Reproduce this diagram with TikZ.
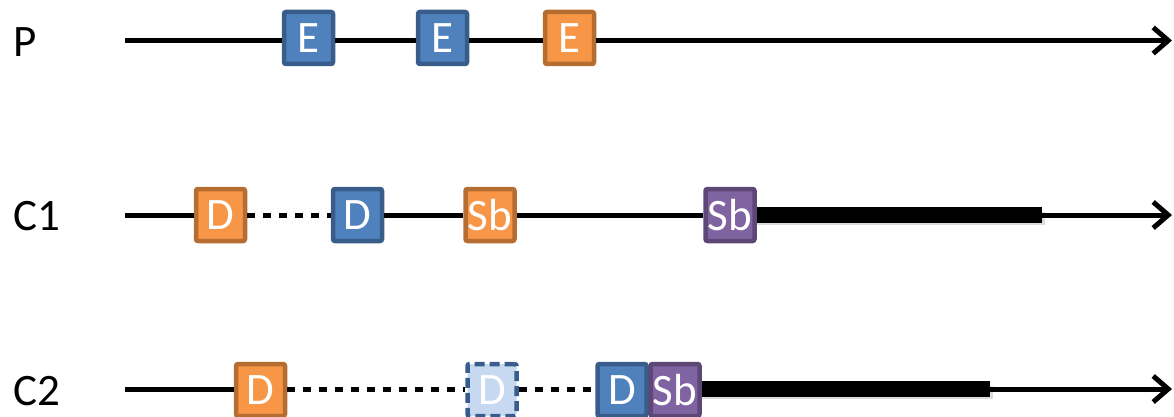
\documentclass[tikz,border=0pt]{standalone}
\usepackage{fontspec}
\setmainfont{Carlito}
\usetikzlibrary{arrows.meta}
\definecolor{bfill}{HTML}{4F81BD}
\definecolor{bdraw}{HTML}{385D8A}
\definecolor{ofill}{HTML}{F79646}
\definecolor{odraw}{HTML}{B66D31}
\definecolor{pfill}{HTML}{8064A2}
\definecolor{pdraw}{HTML}{5C4776}
\definecolor{lfill}{HTML}{C6D9F1}
\tikzset{
  boxbase/.style={rectangle, rounded corners=2pt, line width=4.5pt, minimum width=49pt, minimum height=52pt, inner sep=0pt, text=white, font=\fontsize{45}{48}\selectfont},
  bluebox/.style={boxbase, draw=bdraw, fill=bfill},
  orangebox/.style={boxbase, draw=odraw, fill=ofill},
  purplebox/.style={boxbase, draw=pdraw, fill=pfill},
  ghostbox/.style={boxbase, draw=bdraw, fill=lfill, dash pattern=on 10pt off 5pt},
  rowlabel/.style={font=\fontsize{45}{50}\selectfont, inner sep=0pt},
  axis/.style={line width=5pt},
  dots/.style={line width=5pt, dash pattern=on 8pt off 8pt},
  barline/.style={line width=16pt},
  barshadow/.style={line width=13pt, black!30, opacity=0.45},
  tip/.style={-{Straight Barb[length=15pt,width=26pt]}}
}
\begin{document}
\begin{tikzpicture}[x=1pt,y=-1pt]
\useasboundingbox (0,0) rectangle (1174,417);
% labels
\node[rowlabel, anchor=west] (lp) at (13,42) {P};
\node[rowlabel, anchor=west] (lc1) at (13,216) {C1};
\node[rowlabel, anchor=west] (lc2) at (13,391) {C2};
% row P
\coordinate (p0) at (125,40.5);
\coordinate (p1) at (1172,40.5);
\node[bluebox] (e1) at (308.5,38) {E};
\node[bluebox] (e2) at (442.5,38) {E};
\node[orangebox] (e3) at (569.5,38) {E};
\draw[axis] (p0) -- (p0 -| e1.west);
\draw[axis] (p0 -| e1.east) -- (p0 -| e2.west);
\draw[axis] (p0 -| e2.east) -- (p0 -| e3.west);
\draw[axis, tip] (p0 -| e3.east) -- (p1);
% row C1
\coordinate (c0) at (125,215);
\coordinate (c1) at (1172,215);
\coordinate (c1bar) at (1042,215);
\node[orangebox] (d1) at (220.5,215) {D};
\node[bluebox] (d2) at (357.5,215) {D};
\node[orangebox] (s1) at (490,215) {Sb};
\node[purplebox] (s2) at (730,215) {Sb};
\draw[axis] (c0) -- (d1.west);
\draw[dots] (d1.east) -- (d2.west);
\draw[axis] (d2.east) -- (s1.west);
\draw[axis] (s1.east) -- (s2.west);
\draw[barshadow] ([yshift=-3pt]s2.east) -- ([yshift=-3pt,xshift=3pt]c1bar);
\draw[barline] (s2.east) -- (c1bar);
\draw[axis, tip] (c1bar) -- (c1);
% row C2
\coordinate (q0) at (125,389);
\coordinate (q1) at (1172,389);
\coordinate (q1bar) at (990,389);
\node[orangebox] (f1) at (260.5,390) {D};
\node[ghostbox] (f2) at (492,390) {D};
\node[bluebox] (f3) at (622,390) {D};
\node[purplebox] (f4) at (675,390) {Sb};
\draw[axis] (q0) -- (q0 -| f1.west);
\draw[dots] (q0 -| f1.east) -- (q0 -| f2.west);
\draw[dots] (q0 -| f2.east) -- (q0 -| f3.west);
\draw[barshadow] ([yshift=-3pt]q0 -| f4.east) -- ([yshift=-3pt,xshift=3pt]q1bar);
\draw[barline] (q0 -| f4.east) -- (q1bar);
\draw[axis, tip] (q1bar) -- (q1);
\end{tikzpicture}
\end{document}
